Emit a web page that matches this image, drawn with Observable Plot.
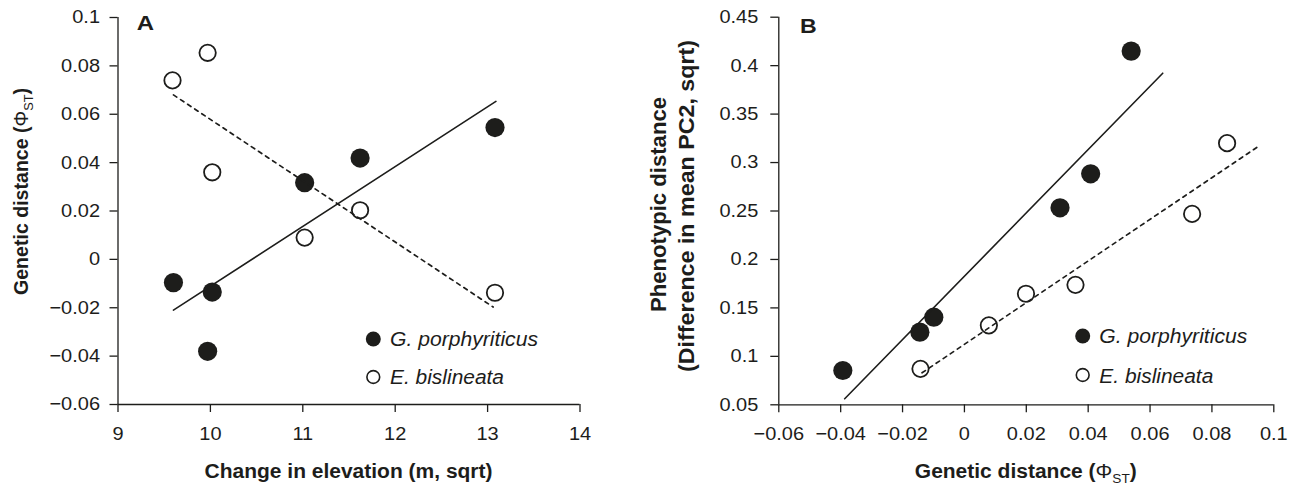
<!DOCTYPE html>
<html><head><meta charset="utf-8">
<script src="https://cdn.jsdelivr.net/npm/d3@7"></script>
<script src="https://cdn.jsdelivr.net/npm/@observablehq/plot@0.6"></script>
<style>
body{margin:0;background:#fff;}
#fig{position:relative;width:1295px;height:487px;overflow:hidden;}
#fig svg{position:absolute;top:0;}
</style></head><body><div id="fig"></div>
<script>
// ---------- data ----------
const speciesLabels = ["G. porphyriticus", "E. bislineata"];

// Panel A: genetic distance vs change in elevation
const elevG = [9.6, 9.97, 10.02, 11.02, 11.62, 13.08];
const phiG  = [-0.0096, -0.038, -0.0135, 0.0317, 0.0419, 0.0545];
const elevE = [9.59, 9.97, 10.02, 11.02, 11.62, 13.08];
const phiE  = [0.074, 0.0854, 0.036, 0.009, 0.0203, -0.0138];
const fitAGx = [9.6, 13.09],  fitAGy = [-0.021, 0.0653];
const fitAEx = [9.6, 13.06],  fitAEy = [0.068, -0.0197];
const xTicksA = [9, 10, 11, 12, 13, 14];
const yTicksA = [-0.06, -0.04, -0.02, 0, 0.02, 0.04, 0.06, 0.08, 0.1];

// Panel B: phenotypic distance vs genetic distance
const genG = [-0.0393, -0.0144, -0.0099, 0.0309, 0.0408, 0.0539];
const phenG = [0.0854, 0.125, 0.1404, 0.2533, 0.2884, 0.415];
const genE = [-0.0142, 0.0079, 0.0199, 0.0359, 0.0736, 0.0849];
const phenE = [0.0871, 0.132, 0.1646, 0.1738, 0.247, 0.32];
const fitBGx = [-0.0387, 0.0641], fitBGy = [0.0562, 0.3922];
const fitBEx = [-0.0137, 0.0946], fitBEy = [0.083, 0.3158];
const xTicksB = [-0.06, -0.04, -0.02, 0, 0.02, 0.04, 0.06, 0.08, 0.1];
const yTicksB = [0.05, 0.1, 0.15, 0.2, 0.25, 0.3, 0.35, 0.4, 0.45];

// ---------- drawing ----------
const INK = "#1d1d1b";
const FONT = "'Liberation Sans', Arial, Helvetica, sans-serif";
const fmt = d => d === 0 ? "0" : String(d).replace("-", "\u2212");
const rows = (xs, ys) => xs.map((x, i) => ({x, y: ys[i]}));

function panel(o) {
  const svg = Plot.plot({
    width: o.width, height: 487,
    marginLeft: o.mL, marginRight: o.mR, marginTop: o.mT, marginBottom: o.mB,
    style: {fontFamily: FONT, fontSize: "18.5px", color: INK, background: "white", overflow: "visible"},
    x: {domain: o.xDom}, y: {domain: o.yDom},
    marks: [
      Plot.ruleX([o.xDom[0]], {stroke: INK, strokeWidth: 1.3}),
      Plot.ruleY([o.yDom[0]], {stroke: INK, strokeWidth: 1.3}),
      Plot.axisX({ticks: o.xTicks, tickFormat: fmt, tickSize: 8, tickPadding: 14, strokeWidth: 1.3, label: null, fontSize: 18.5}),
      Plot.axisY({ticks: o.yTicks, tickFormat: fmt, tickSize: 8, tickPadding: o.padY, strokeWidth: 1.3, label: null, fontSize: 18.5}),
      Plot.dot(o.g, {x: "x", y: "y", r: 9.6, fill: INK, stroke: "none"}),
      Plot.dot(o.e, {x: "x", y: "y", r: 8.2, fill: "white", stroke: INK, strokeWidth: 1.8}),
      Plot.line(o.fitG, {x: "x", y: "y", stroke: INK, strokeWidth: 1.6}),
      Plot.line(o.fitE, {x: "x", y: "y", stroke: INK, strokeWidth: 1.7, strokeDasharray: "4,4.5"})
    ]
  });
  svg.style.left = o.left + "px";
  document.getElementById("fig").appendChild(svg);
  // the reference type is slightly wide: stretch tick labels horizontally about their anchor
  svg.querySelectorAll("g[aria-label$='tick label'] text").forEach(t => {
    const b = t.getBBox();
    const anchor = getComputedStyle(t).textAnchor;
    const ax = anchor === "end" ? b.x + b.width : anchor === "middle" ? b.x + b.width / 2 : b.x;
    const tr = t.getAttribute("transform") || "";
    t.setAttribute("transform", `${tr} translate(${ax},0) scale(1.08,1) translate(${-ax},0)`);
  });
  return d3.select(svg);
}

function label(sel, x, y, rot, parts, len, size = 20, anchor = "middle") {
  const t = sel.append("text")
    .attr("transform", `translate(${x},${y})` + (rot ? ` rotate(${rot})` : ""))
    .attr("text-anchor", anchor).attr("fill", INK)
    .style("font-family", FONT).style("font-size", size + "px").style("font-weight", "bold");
  if (len) t.attr("textLength", len).attr("lengthAdjust", "spacingAndGlyphs");
  for (const p of parts) {
    const s = t.append("tspan").text(p.t);
    if (p.w) s.style("font-weight", p.w);
    if (p.s) s.style("font-size", p.s + "px");
    if (p.st) s.style("font-style", p.st);
    if (p.dy) s.attr("dy", p.dy);
  }
  return t;
}
const phiParts = pre => [
  {t: pre + "("}, {t: "\u03A6", w: "normal"}, {t: "ST", w: "normal", s: 13, dy: 5}, {t: ")", dy: -5}
];

function legend(sel, cx, tx, yG, yE, bG, bE) {
  sel.append("circle").attr("cx", cx).attr("cy", yG).attr("r", 7.5).attr("fill", INK);
  sel.append("circle").attr("cx", cx).attr("cy", yE).attr("r", 6.4).attr("fill", "white").attr("stroke", INK).attr("stroke-width", 1.6);
  label(sel, tx, bG, 0, [{t: speciesLabels[0], w: "normal", st: "italic"}], 148, 20, "start");
  label(sel, tx, bE, 0, [{t: speciesLabels[1], w: "normal", st: "italic"}], 114, 20, "start");
}

// Panel A
const A = panel({
  left: 0, width: 640, mL: 117.5, mR: 60.5, mT: 17, mB: 83, padY: 10,
  xDom: [9, 14], yDom: [-0.06, 0.1], xTicks: xTicksA, yTicks: yTicksA,
  g: rows(elevG, phiG), e: rows(elevE, phiE),
  fitG: rows(fitAGx, fitAGy), fitE: rows(fitAEx, fitAEy)
});
label(A, 136.7, 30, 0, [{t: "A"}], 17.3, 21, "start");
label(A, 348.5, 477.5, 0, [{t: "Change in elevation (m, sqrt)"}], 288);
label(A, 27.5, 191.5, -90, phiParts("Genetic distance "), 207);
legend(A, 373.3, 390, 339, 377, 346, 383.5);

// Panel B
const B = panel({
  left: 640, width: 655, mL: 138.3, mR: 21.7, mT: 16.7, mB: 82.7, padY: 12.5,
  xDom: [-0.06, 0.1], yDom: [0.05, 0.45], xTicks: xTicksB, yTicks: yTicksB,
  g: rows(genG, phenG), e: rows(genE, phenE),
  fitG: rows(fitBGx, fitBGy), fitE: rows(fitBEx, fitBEy)
});
label(B, 160, 33, 0, [{t: "B"}], 16.7, 21, "start");
label(B, 385.8, 478, 0, phiParts("Genetic distance "), 222);
label(B, 25.5, 204.5, -90, [{t: "Phenotypic distance"}], 215, 21.5);
label(B, 53.5, 206, -90, [{t: "(Difference in mean PC2, sqrt)"}], 332, 21.5);
legend(B, 442.7, 459.3, 336, 375, 342.7, 382.7);
</script></body></html>
